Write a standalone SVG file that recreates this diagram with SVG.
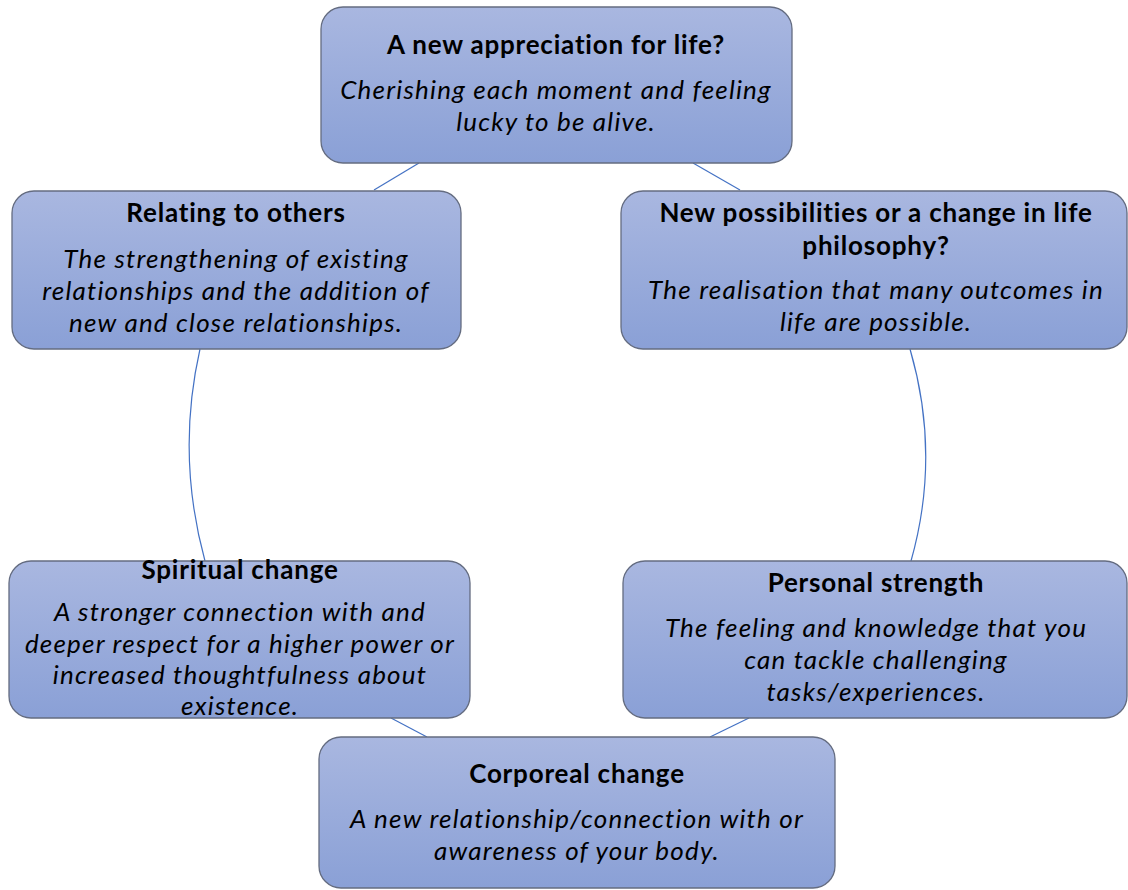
<svg xmlns="http://www.w3.org/2000/svg" width="1128" height="890" viewBox="0 0 1128 890">
<defs>
<linearGradient id="g" x1="0" y1="0" x2="0" y2="1">
<stop offset="0" stop-color="#a9b7e0"/>
<stop offset="1" stop-color="#8aa0d6"/>
</linearGradient>
<style>
.box{fill:url(#g);stroke:#646c80;stroke-width:1.3}
.t{font-family:Lato,"Liberation Sans",sans-serif;font-weight:bold;font-size:26px;letter-spacing:0.8px;fill:#000;text-anchor:middle}
.b{font-family:Lato,"Liberation Sans",sans-serif;font-style:italic;font-size:26px;letter-spacing:1.2px;fill:#000;text-anchor:middle}
.c{fill:none;stroke:#4472c4;stroke-width:1.2}
</style>
</defs>
<rect width="1128" height="890" fill="#fff"/>
<g id="connectors">
<path class="c" d="M419,163 L374,190"/>
<path class="c" d="M693,163 L740,190"/>
<path class="c" d="M200,349 Q176,455 205,561"/>
<path class="c" d="M910,349 Q941,455 911,561"/>
<path class="c" d="M391,718 L427,737"/>
<path class="c" d="M749,718 L710,737"/>
</g>
<g id="n-appreciation">
<rect class="box" x="321" y="7" width="471" height="156" rx="22"/>
<text class="t" x="556" y="54">A new appreciation for life?</text>
<text class="b" x="556" y="99">Cherishing each moment and feeling</text>
<text class="b" x="556" y="131">lucky to be alive.</text>
</g>
<g id="n-relating">
<rect class="box" x="12" y="191" width="449" height="158" rx="22"/>
<text class="t" x="236" y="222">Relating to others</text>
<text class="b" x="236" y="268">The strengthening of existing</text>
<text class="b" x="236" y="300">relationships and the addition of</text>
<text class="b" x="236" y="332">new and close relationships.</text>
</g>
<g id="n-possibilities">
<rect class="box" x="621" y="191" width="506" height="158" rx="22"/>
<text class="t" x="876" y="222">New possibilities or a change in life</text>
<text class="t" x="876" y="255">philosophy?</text>
<text class="b" x="876" y="299">The realisation that many outcomes in</text>
<text class="b" x="876" y="331">life are possible.</text>
</g>
<g id="n-spiritual">
<rect class="box" x="9" y="561" width="461" height="157" rx="22"/>
<text class="t" x="240" y="579">Spiritual change</text>
<text class="b" x="240" y="621">A stronger connection with and</text>
<text class="b" x="240" y="653">deeper respect for a higher power or</text>
<text class="b" x="240" y="684">increased thoughtfulness about</text>
<text class="b" x="240" y="715">existence.</text>
</g>
<g id="n-strength">
<rect class="box" x="623" y="561" width="504" height="157" rx="22"/>
<text class="t" x="876" y="592">Personal strength</text>
<text class="b" x="876" y="637">The feeling and knowledge that you</text>
<text class="b" x="876" y="669">can tackle challenging</text>
<text class="b" x="876" y="701">tasks/experiences.</text>
</g>
<g id="n-corporeal">
<rect class="box" x="319" y="737" width="516" height="151" rx="22"/>
<text class="t" x="577" y="783">Corporeal change</text>
<text class="b" x="577" y="828">A new relationship/connection with or</text>
<text class="b" x="577" y="860">awareness of your body.</text>
</g>
</svg>
